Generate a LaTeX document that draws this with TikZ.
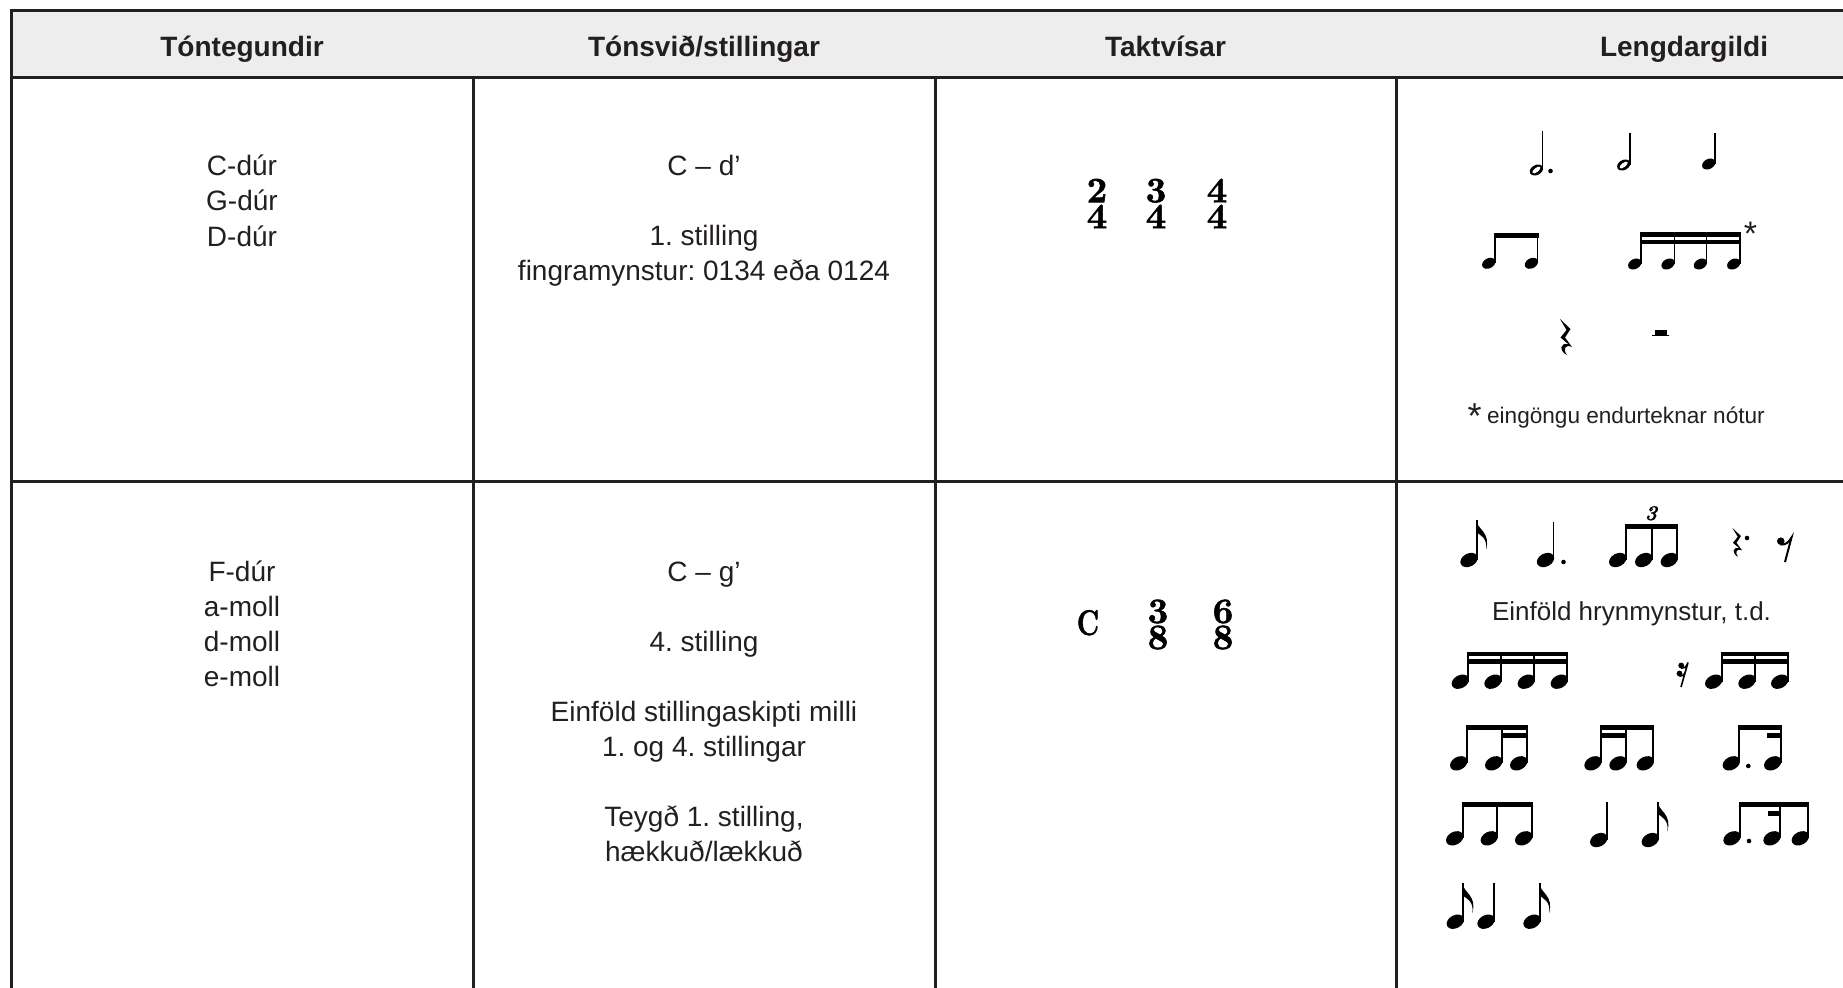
\documentclass[tikz,border=0pt]{standalone}
\usepackage{fontspec}
\usepackage{graphicx}
\newfontfamily\arial{Liberation Sans}
\newfontfamily\tsf{lmroman10-bold.otf}[FakeBold=1.5]
\newfontfamily\tripf{lmroman10-bolditalic.otf}[FakeBold=1]
\definecolor{tc}{RGB}{35,31,32}
\definecolor{hdr}{RGB}{237,237,237}
\tikzset{
  grid/.style={draw=tc, line width=1.5pt},
  txt/.style={font=\arial\fontsize{14}{17}\selectfont, text=tc, inner sep=0pt, anchor=base},
  hdtxt/.style={font=\arial\bfseries\fontsize{14}{17}\selectfont, text=tc, inner sep=0pt, anchor=base},
  smalltxt/.style={font=\arial\fontsize{11.3}{13}\selectfont, text=tc, inner sep=0pt, anchor=base},
  ts/.style={font=\tsf\fontsize{17.9}{13}\selectfont, inner sep=0pt, align=center, anchor=center, text=black},
  stemw/.style={draw=black, line width=\sw},
}
% music helpers (coordinates in px)
\def\ha{9.2}\def\hb{6.5}\def\so{8}\def\bt{5}\def\sw{0.9pt}
\newcommand\Hd[2]{\fill[black,rotate around={28:(#1,#2)}] (#1,#2) ellipse [x radius=\ha, y radius=\hb];}
\newcommand\Ho[2]{\fill[black,rotate around={28:(#1,#2)}] (#1,#2) ellipse [x radius=\ha, y radius=\hb];
  \fill[white,rotate around={38:(#1,#2)}] (#1,#2) ellipse [x radius=\ha*0.7, y radius=\hb*0.42];}
\newcommand\St[3]{\draw[stemw] (#1,#2) -- (#1,#3);}
\newcommand\Nq[3]{\Hd{#1-\so}{#2}\St{#1}{#2}{#3}}
\newcommand\Nh[3]{\Ho{#1-\so}{#2}\St{#1}{#2}{#3}}
\newcommand\Bm[3]{\fill[black] (#1-0.9,#3) rectangle (#2+0.9,#3+\bt);}
\newcommand\Fl[2]{\fill[black] (#1-0.9,#2) .. controls (#1+0.5,#2+10) and (#1+14,#2+12) .. (#1+9,#2+30) .. controls (#1+11,#2+18) and (#1+3,#2+15) .. (#1-0.9,#2+12) -- cycle;}
\newcommand\Dt[2]{\fill[black] (#1,#2) circle[radius=2.3];}
\newcommand\QRest[3]{\begin{scope}[shift={(#1,#2)},scale=#3]\fill[black] (0,0) -- (10.5,10) -- (5,18.5) -- (12,28) .. controls (6,25) and (2,29.5) .. (7,36) .. controls (-1,32) and (-0.5,23) .. (8.5,25.3) -- (0.5,18.5) -- (6.5,11) -- cycle;\end{scope}}
\newcommand\ERest[2]{\begin{scope}[shift={(#1,#2)}]\fill[black] (3.8,4.2) circle[radius=3.8];\draw[black,line width=1pt] (3.5,7.5) .. controls (8,8.5) and (12,5) .. (14.5,0.5) -- (8,25);\end{scope}}
\newcommand\SRest[2]{\begin{scope}[shift={(#1,#2)}]\fill[black] (3.2,3.5) circle[radius=2.9] (1.5,11.5) circle[radius=2.9];\draw[black,line width=0.8pt] (3,6.2) .. controls (6,7) and (8.5,5) .. (10,0.5) -- (3,25) (1.3,14.2) .. controls (4,15) and (6.5,13) .. (7.9,8.5);\end{scope}}
\begin{document}
\frenchspacing
\begin{tikzpicture}[x=0.5pt,y=-0.5pt]
\useasboundingbox (0,0) rectangle (1843,987);
\begin{scope}
\clip (0,0) rectangle (1843,987);
\fill[hdr] (11.5,10) rectangle (1900,77.5);
\draw[grid] (1900,10) -- (11.5,10) -- (11.5,1000);
\draw[grid] (11.5,77.5) -- (1900,77.5);
\draw[grid] (11.5,481) -- (1900,481);
\foreach \x in {473,935,1396} \draw[grid] (\x,77.5) -- (\x,1000);
\end{scope}
% header
\node[hdtxt] (h1) at (242,56.5) {Tóntegundir};
\node[hdtxt] (h2) at (704,56.5) {Tónsvið/stillingar};
\node[hdtxt] (h3) at (1165.5,56.5) {Taktvísar};
\node[hdtxt] (h4) at (1684,56.5) {Lengdargildi};
% column 1
\node[txt] (a1) at (242,175) {C-dúr};
\node[txt] (a2) at (242,210.5) {G-dúr};
\node[txt] (a3) at (242,246) {D-dúr};
\node[txt] (b1) at (242,581) {F-dúr};
\node[txt] (b2) at (242,616) {a-moll};
\node[txt] (b3) at (242,651) {d-moll};
\node[txt] (b4) at (242,686) {e-moll};
% column 2
\node[txt] (c1) at (704,175) {C – d’};
\node[txt] (c2) at (704,245) {1. stilling};
\node[txt] (c3) at (704,280) {fingramynstur: 0134 eða 0124};
\node[txt] (d1) at (704,581) {C – g’};
\node[txt] (d2) at (704,651) {4. stilling};
\node[txt] (d3) at (704,721) {Einföld stillingaskipti milli};
\node[txt] (d4) at (704,756) {1. og 4. stillingar};
\node[txt] (d5) at (704,826) {Teygð 1. stilling,};
\node[txt] (d6) at (704,861) {hækkuð/lækkuð};
% column 3 time signatures
\node[ts] (t1) at (1097,203.5) {2\\4};
\node[ts] (t2) at (1156,203.5) {3\\4};
\node[ts] (t3) at (1217,203.5) {4\\4};
\node[ts, anchor=base] (t4) at (1088,635) {\scalebox{0.75}[1]{C}};
\node[ts] (t5) at (1158,624.5) {3\\8};
\node[ts] (t6) at (1223,624.5) {6\\8};
% column 4, row 1
\def\ha{7}\def\hb{5}\def\so{6.3}\def\bt{4.4}\def\sw{0.65pt}
\Nh{1542.7}{170}{130.7}\Dt{1550.5}{171}
\Nh{1630}{165}{132.7}
\Nq{1715}{164}{132.7}
\Nq{1495}{263.3}{233.3}\Nq{1537.7}{263.3}{233.3}\Bm{1495}{1537.7}{233.3}
\Nq{1641}{264}{232.3}\Nq{1674.3}{264}{232.3}\Nq{1706.7}{264}{232.3}\Nq{1740}{264}{232.3}
\Bm{1641}{1740}{232.3}\Bm{1641}{1740}{240}
\node[font=\arial\fontsize{17}{17}\selectfont, text=tc, inner sep=0pt, anchor=base] (ast1) at (1750.5,245) {*};
\QRest{1560}{319}{1}
\fill[black] (1654.5,329.5) rectangle (1667,334.8);
\draw[black,line width=0.6pt] (1652.3,335.2) -- (1669,335.2);
\node[font=\arial\fontsize{18}{18}\selectfont, text=tc, inner sep=0pt, anchor=base] (ast2) at (1474.5,428) {*};
\node[smalltxt, anchor=base west] (fn) at (1486.7,423) {eingöngu endurteknar nótur};
% column 4, row 2
\def\ha{9.2}\def\hb{6.5}\def\so{8}\def\bt{5}\def\sw{0.9pt}
% line A
\Nq{1477}{560}{520}\Fl{1477}{520}
\Nq{1553.5}{560}{521.7}\Dt{1563.5}{562}
\Nq{1625.7}{560}{524}\Nq{1651.7}{560}{524}\Nq{1677.3}{560}{524}\Bm{1625.7}{1677.3}{524}
\node[font=\tripf\fontsize{10.5}{10.5}\selectfont, inner sep=0pt, anchor=base] (trip) at (1651,520) {3};
\QRest{1732.5}{528}{0.8}\Dt{1747}{538}
\ERest{1777}{537}
\node[font=\arial\fontsize{13}{15}\selectfont, text=tc, inner sep=0pt, anchor=base] (eh) at (1631.5,620) {Einföld hrynmynstur, t.d.};
% line B
\def\bt{4.2}
\Nq{1468.3}{681.7}{651.7}\Nq{1501}{681.7}{651.7}\Nq{1534.3}{681.7}{651.7}\Nq{1567.3}{681.7}{651.7}
\Bm{1468.3}{1567.3}{651.7}\Bm{1468.3}{1567.3}{659.3}
\SRest{1678}{662}
\Nq{1721.7}{681.7}{651.7}\Nq{1755}{681.7}{651.7}\Nq{1787.7}{681.7}{651.7}
\Bm{1721.7}{1787.7}{651.7}\Bm{1721.7}{1787.7}{659.3}
% line C
\def\bt{4.8}
\Nq{1466.7}{763.3}{725}\Nq{1501.7}{763.3}{725}\Nq{1526.7}{763.3}{725}
\Bm{1466.7}{1526.7}{725}\Bm{1501.7}{1526.7}{733.3}
\Nq{1601}{763.3}{725}\Nq{1626}{763.3}{725}\Nq{1653.3}{763.3}{725}
\Bm{1601}{1653.3}{725}\Bm{1601}{1626}{733.3}
\Nq{1739.3}{763.3}{725}\Nq{1780.7}{763.3}{725}\Dt{1748.3}{766}
\Bm{1739.3}{1780.7}{725}\fill[black] (1766.7,733.3) rectangle (1781.6,738.1);
% line D
\def\bt{5.5}
\Nq{1462.7}{838.3}{801.7}\Nq{1497.3}{838.3}{801.7}\Nq{1531.7}{838.3}{801.7}
\Bm{1462.7}{1531.7}{801.7}
\Nq{1606.7}{840}{801.7}
\Nq{1658.3}{840}{801.7}\Fl{1658.3}{801.7}
\Nq{1740}{838.3}{801.7}\Nq{1780}{838.3}{801.7}\Nq{1808.3}{838.3}{801.7}\Dt{1749}{841}
\Bm{1740}{1808.3}{801.7}\fill[black] (1767.7,810.7) rectangle (1780.9,816);
% line E
\Nq{1463.3}{921.7}{883.3}\Fl{1463.3}{883.3}
\Nq{1494}{921.7}{883.3}
\Nq{1540}{921.7}{883.3}\Fl{1540}{883.3}
\end{tikzpicture}
\end{document}
